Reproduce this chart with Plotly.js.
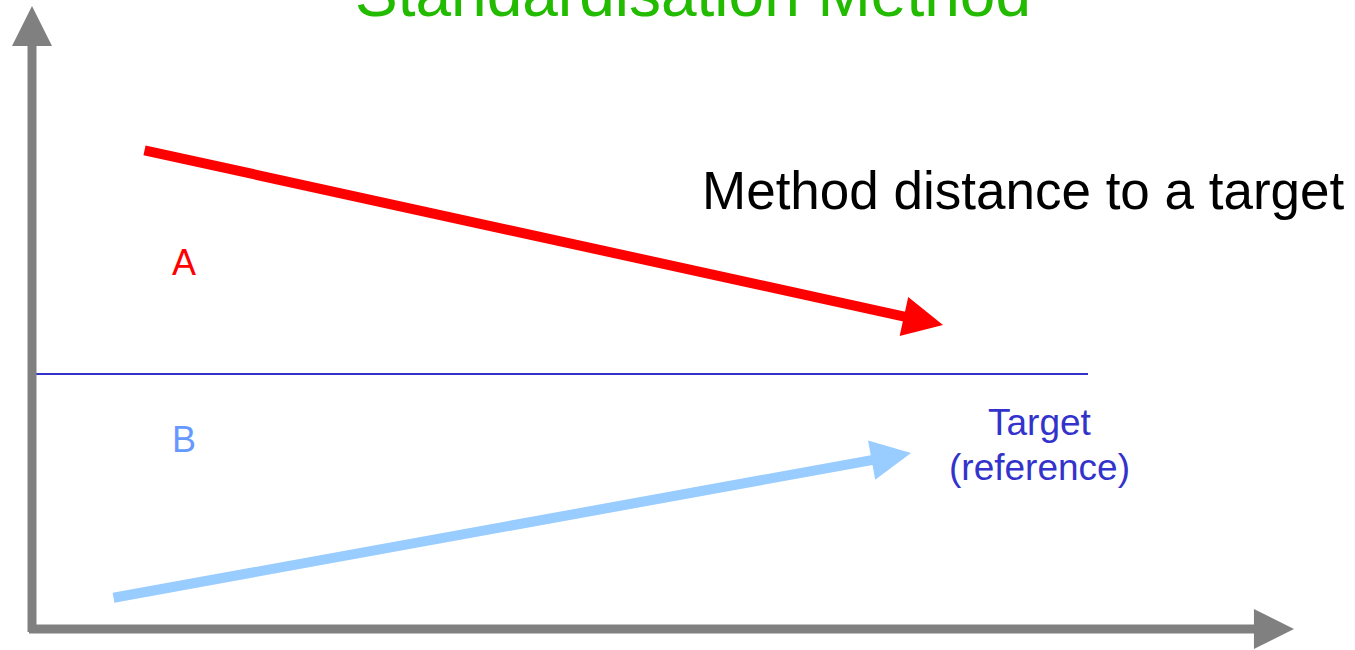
<!DOCTYPE html>
<html>
<head>
<meta charset="utf-8">
<script src="https://cdn.plot.ly/plotly-3.0.1.min.js"></script>
<style>html,body{margin:0;padding:0;background:#fff;}#chart{width:1355px;height:650px;}</style>
</head>
<body>
<div id="chart"></div>
<script>
// ---- data (diagram units; origin at the axes corner) ----
const titleText = 'Standardisation Method';
const methodLabel = 'Method distance to a target';
const seriesNames = ['A', 'B'];
const seriesStartX = [1.11, 0.80];
const seriesStartY = [4.79, 0.31];
const seriesEndX = [9.11, 8.79];
const seriesEndY = [3.04, 1.76];
const targetLevel = 2.55;
const targetLineX = [0, 10.56];
const targetLabels = ['Target', '(reference)'];
const axisEndX = 12.62;
const axisEndY = 6.23;

// ---- styles ----
const FONT = 'Liberation Sans, Arial, Helvetica, sans-serif';
const seriesArrowColors = ['#ff0000', '#99ccff'];
const seriesTextColors = ['#ff0000', '#6699ff'];
const labelX = [1.52, 1.52];
const labelY = [3.67, 1.90];

const annotations = [];
// axes arrows
annotations.push({x: 0, y: axisEndY, ax: 0, ay: -0.045, xref: 'x', yref: 'y', axref: 'x', ayref: 'y',
  text: '', showarrow: true, arrowhead: 2, arrowsize: 0.89, arrowwidth: 9, arrowcolor: '#808080'});
annotations.push({x: axisEndX, y: 0, ax: -0.045, ay: 0, xref: 'x', yref: 'y', axref: 'x', ayref: 'y',
  text: '', showarrow: true, arrowhead: 2, arrowsize: 0.89, arrowwidth: 9, arrowcolor: '#808080'});
// series arrows + labels
for (let i = 0; i < seriesNames.length; i++) {
  annotations.push({x: seriesEndX[i], y: seriesEndY[i], ax: seriesStartX[i], ay: seriesStartY[i],
    xref: 'x', yref: 'y', axref: 'x', ayref: 'y', text: '', showarrow: true,
    arrowhead: 2, arrowsize: 0.8, arrowwidth: 10, arrowcolor: seriesArrowColors[i]});
  annotations.push({x: labelX[i], y: labelY[i], xref: 'x', yref: 'y', text: seriesNames[i],
    showarrow: false, xanchor: 'center', yanchor: 'middle',
    font: {family: FONT, size: 36, color: seriesTextColors[i]}});
}
// target labels
annotations.push({x: 10.08, y: 2.07, xref: 'x', yref: 'y', text: targetLabels[0], showarrow: false,
  xanchor: 'center', yanchor: 'middle', font: {family: FONT, size: 37, color: '#3333cc'}});
annotations.push({x: 10.07, y: 1.62, xref: 'x', yref: 'y', text: targetLabels[1], showarrow: false,
  xanchor: 'center', yanchor: 'middle', font: {family: FONT, size: 37, color: '#3333cc'}});
// method label
annotations.push({x: 9.91, y: 4.39, xref: 'x', yref: 'y', text: methodLabel, showarrow: false,
  xanchor: 'center', yanchor: 'middle', font: {family: FONT, size: 53, color: '#000000'}});
// title (partly above the top edge, as in the reference)
annotations.push({x: 0.5118, y: 1.0098, xref: 'paper', yref: 'paper', text: titleText, showarrow: false,
  xanchor: 'center', yanchor: 'middle', font: {family: FONT, size: 64, color: '#22bb00'}});

const traces = [{
  x: targetLineX, y: [targetLevel, targetLevel], type: 'scatter', mode: 'lines',
  line: {color: '#3333cc', width: 2}, hoverinfo: 'skip', showlegend: false
}];

const layout = {
  width: 1355, height: 650,
  margin: {l: 0, r: 0, t: 0, b: 0},
  paper_bgcolor: '#ffffff', plot_bgcolor: '#ffffff',
  showlegend: false,
  xaxis: {range: [-0.32, 13.23], visible: false, fixedrange: true},
  yaxis: {range: [-0.21, 6.29], visible: false, fixedrange: true},
  annotations: annotations
};

Plotly.newPlot('chart', traces, layout, {displayModeBar: false, staticPlot: true});
</script>
</body>
</html>
